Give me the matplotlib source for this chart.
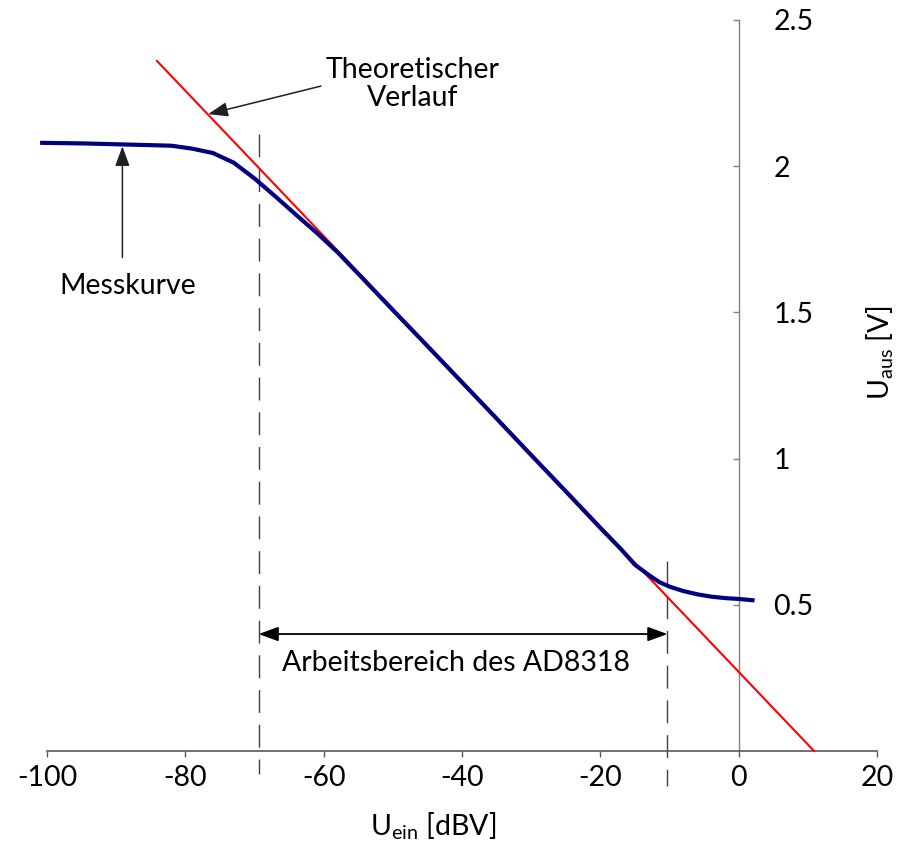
import matplotlib
matplotlib.use("Agg")
import matplotlib.pyplot as plt

plt.rcParams['font.family'] = ['Lato', 'DejaVu Sans']
plt.rcParams['mathtext.fontset'] = 'custom'
plt.rcParams['mathtext.rm'] = 'Lato'
plt.rcParams['mathtext.it'] = 'Lato:italic'
plt.rcParams['axes.unicode_minus'] = False

mess_x = [-101, -95, -90, -85, -82, -79, -76, -73, -70, -67, -64, -61, -58, -55, -50,
          -45, -40, -35, -30, -25, -20, -17, -15, -13, -11.5, -10, -8, -6, -4, -2, 0, 2.3]
mess_y = [2.08, 2.078, 2.075, 2.072, 2.07, 2.06, 2.045, 2.012, 1.958, 1.897, 1.834, 1.772,
          1.706, 1.632, 1.508, 1.385, 1.261, 1.137, 1.012, 0.888, 0.763, 0.69, 0.637, 0.602,
          0.578, 0.562, 0.547, 0.536, 0.528, 0.523, 0.52, 0.515]

# theoretical line (Theoretischer Verlauf), end points
theo_x = [-84.1, 10.9]
theo_y = [2.36, 0.0]

# working range of the AD8318
range_lo, range_hi = -69.4, -10.3

x_ticks = [-100, -80, -60, -40, -20, 0, 20]
x_labels = ['-100', '-80', '-60', '-40', '-20', '0', '20']
y_ticks = [0.5, 1, 1.5, 2, 2.5]
y_labels = ['0.5', '1', '1.5', '2', '2.5']

fs = 20.5

fig = plt.figure(figsize=(9.01, 8.43), dpi=100)
ax = fig.add_axes([47 / 901, 1 - 751 / 843, 830 / 901, 731 / 843])
ax.set_xlim(-100, 20)
ax.set_ylim(0, 2.5)

# red theoretical line and blue measurement
ax.plot(theo_x, theo_y, color='#ff0000', lw=1.5, zorder=3, clip_on=False)
ax.plot(mess_x, mess_y, color='#000080', lw=3.0, zorder=4, clip_on=False,
        solid_joinstyle='round', solid_capstyle='butt')

# dashed boundaries of the working range
ax.plot([range_lo, range_lo], [2.11, -0.08], color='#404040', lw=1.0,
        dashes=(16.5, 8.5), clip_on=False, zorder=2)
ax.plot([range_hi, range_hi], [0.65, -0.12], color='#404040', lw=1.0,
        dashes=(16.5, 8.5), clip_on=False, zorder=2)

# axes: x at the bottom, y axis drawn at x = 0 with labels on its right
for s in ['top', 'left']:
    ax.spines[s].set_visible(False)
ax.spines['right'].set_position(('data', 0))
ax.spines['right'].set_color('#808080')
ax.spines['right'].set_linewidth(1.0)
ax.spines['bottom'].set_color('#595959')
ax.spines['bottom'].set_linewidth(1.2)

ax.set_xticks(x_ticks)
ax.set_xticklabels(x_labels, fontsize=fs)
ax.tick_params(axis='x', direction='out', length=4, width=1, color='#595959', pad=6)

ax.yaxis.tick_right()
ax.set_yticks(y_ticks)
ax.set_yticklabels(y_labels, fontsize=fs)
ax.tick_params(axis='y', direction='in', length=4, width=1, color='#808080', pad=25)

ax.text(1.004, 0.545, r'U$_{\mathrm{aus}}$ [V]', transform=ax.transAxes, rotation=90,
        ha='center', va='center', fontsize=fs)
ax.text(0.465, -0.103, r'U$_{\mathrm{ein}}$ [dBV]', transform=ax.transAxes,
        ha='center', va='center', fontsize=fs)

arrow = dict(arrowstyle='-|>,head_length=0.6,head_width=0.22', color='#202020',
             lw=1.1, shrinkA=0, shrinkB=0, mutation_scale=20)

ax.annotate('', xy=(-76.7, 2.178), xytext=(-60.4, 2.274), arrowprops=arrow, annotation_clip=False)
ax.text(-47.2, 2.28, 'Theoretischer\nVerlauf', ha='center', va='center', fontsize=fs,
        linespacing=1.1)

ax.annotate('', xy=(-89.1, 2.068), xytext=(-89.1, 1.688), arrowprops=arrow)
ax.text(-88.3, 1.59, 'Messkurve', ha='center', va='center', fontsize=fs)

dbl = dict(arrowstyle='<|-|>,head_length=0.6,head_width=0.22', color='#000000',
           lw=1.3, shrinkA=0, shrinkB=0, mutation_scale=20)
ax.annotate('', xy=(range_hi, 0.40), xytext=(range_lo, 0.40), arrowprops=dbl)
ax.text(-40.9, 0.30, 'Arbeitsbereich des AD8318', ha='center', va='center', fontsize=fs)

fig.savefig('out.png', dpi=100)
